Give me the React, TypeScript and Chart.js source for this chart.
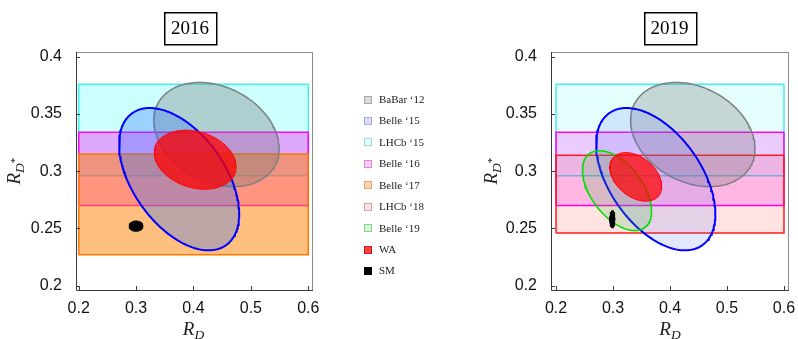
import React, { useEffect, useRef } from "react";
import { Chart, registerables } from "chart.js";

Chart.register(...registerables);

// ---------------------------------------------------------------------------
// Measurements
// ---------------------------------------------------------------------------

// R(D*)-only results, shown as horizontal bands over the R(D) span
const BAND_RD_SPAN = [0.2, 0.6];
const LHCB_15 = { label: "LHCb ‘15", rds: 0.336, down: 0.04, up: 0.04 };
const BELLE_16 = { label: "Belle ‘16", rds: 0.302, down: 0.032, up: 0.032 };
const BELLE_17 = { label: "Belle ‘17", rds: 0.27, down: 0.043, up: 0.045 };
const LHCB_18 = { label: "LHCb ‘18", rds: 0.28, down: 0.034, up: 0.034 };

// Joint R(D)–R(D*) results: central values, total errors and correlation
const BABAR_12 = { label: "BaBar ‘12", rd: 0.44, rdErr: 0.072, rds: 0.332, rdsErr: 0.03, rho: -0.27 };
const BELLE_15 = { label: "Belle ‘15", rd: 0.375, rdErr: 0.069, rds: 0.293, rdsErr: 0.041, rho: -0.49 };
const BELLE_19 = { label: "Belle ‘19", rd: 0.307, rdErr: 0.04, rds: 0.283, rdsErr: 0.023, rho: -0.51 };
const WA_2016 = { label: "WA", rd: 0.403, rdErr: 0.047, rds: 0.31, rdsErr: 0.017, rho: -0.23 };
const WA_2019 = { label: "WA", rd: 0.34, rdErr: 0.03, rds: 0.295, rdsErr: 0.014, rho: -0.38 };
const SM_2016 = { label: "SM", rd: 0.3, rdErr: 0.008, rds: 0.252, rdsErr: 0.003, rho: 0 };
const SM_2019 = { label: "SM", rd: 0.299, rdErr: 0.003, rds: 0.258, rdsErr: 0.005, rho: 0 };

// 68% CL contour for two parameters
const DELTA_CHI2 = 2.3;

const BANDS_2016 = [LHCB_15, BELLE_16, BELLE_17];
const ELLIPSES_2016 = [BABAR_12, BELLE_15, WA_2016, SM_2016];
const BANDS_2019 = [LHCB_15, BELLE_16, LHCB_18];
const ELLIPSES_2019 = [BABAR_12, BELLE_15, BELLE_19, WA_2019, SM_2019];

const X_TICKS = [0.2, 0.3, 0.4, 0.5, 0.6];
const X_TICK_LABELS = ["0.2", "0.3", "0.4", "0.5", "0.6"];
const Y_TICKS = [0.2, 0.25, 0.3, 0.35, 0.4];
const Y_TICK_LABELS = ["0.2", "0.25", "0.3", "0.35", "0.4"];

const LEGEND_LABELS = ["BaBar ‘12", "Belle ‘15", "LHCb ‘15", "Belle ‘16", "Belle ‘17", "LHCb ‘18", "Belle ‘19", "WA", "SM"];
const LEGEND_FILLS = ["#dcdcdc", "#dedeff", "#dcffff", "#ffc8ff", "#ffd4a8", "#ffe0e0", "#ccffcc", "#ff4040", "#000000"];
const LEGEND_LINES = ["#a8a8a8", "#a8a8d8", "#a8d8d8", "#d090d0", "#d8a878", "#d0a8a8", "#90d090", "#c02020", "#000000"];

// ---------------------------------------------------------------------------
// Styles
// ---------------------------------------------------------------------------

type Style = { fill: string; line: string; width: number };

const STYLE_2016: Record<string, Style> = {
  "LHCb ‘15": { fill: "rgba(0,255,255,0.2)", line: "#40f0f0", width: 1.5 },
  "Belle ‘16": { fill: "rgba(255,0,255,0.34)", line: "#ff00ff", width: 1.5 },
  "Belle ‘17": { fill: "rgba(255,128,0,0.5)", line: "#ff7800", width: 1.5 },
  "BaBar ‘12": { fill: "rgba(120,120,120,0.35)", line: "#7f7f7f", width: 1.5 },
  "Belle ‘15": { fill: "rgba(40,110,255,0.3)", line: "#0000ff", width: 2 },
  WA: { fill: "rgba(255,0,0,0.75)", line: "#ff0000", width: 1 },
  SM: { fill: "#000000", line: "#000000", width: 1 },
};

const STYLE_2019: Record<string, Style> = {
  "LHCb ‘15": { fill: "rgba(0,255,255,0.1)", line: "#40f0f0", width: 1.5 },
  "Belle ‘16": { fill: "rgba(255,0,255,0.2)", line: "#ff00ff", width: 1.5 },
  "LHCb ‘18": { fill: "rgba(255,0,0,0.11)", line: "#ff1a1a", width: 1.5 },
  "BaBar ‘12": { fill: "rgba(120,120,120,0.3)", line: "#7f7f7f", width: 1.5 },
  "Belle ‘15": { fill: "rgba(90,110,255,0.16)", line: "#0000ff", width: 2 },
  "Belle ‘19": { fill: "rgba(60,190,60,0.2)", line: "#00dd00", width: 1.5 },
  WA: { fill: "rgba(255,0,0,0.72)", line: "#ff0000", width: 1 },
  SM: { fill: "#000000", line: "#000000", width: 1 },
};

const SERIF = '"Liberation Serif", "Times New Roman", serif';
const SANS = '"Liberation Sans", Arial, sans-serif';

// ---------------------------------------------------------------------------
// Geometry helpers
// ---------------------------------------------------------------------------

function bandPoints(b: { rds: number; down: number; up: number }) {
  const lo = b.rds - b.down;
  const hi = b.rds + b.up;
  const [x0, x1] = BAND_RD_SPAN;
  return [
    { x: x0, y: lo },
    { x: x1, y: lo },
    { x: x1, y: hi },
    { x: x0, y: hi },
    { x: x0, y: lo },
  ];
}

// Covariance ellipse traced parametrically
function ellipsePoints(m: { rd: number; rdErr: number; rds: number; rdsErr: number; rho: number }) {
  const k = Math.sqrt(DELTA_CHI2);
  const s = Math.sqrt(1 - m.rho * m.rho);
  const pts: { x: number; y: number }[] = [];
  const n = 200;
  for (let i = 0; i <= n; i++) {
    const t = (2 * Math.PI * i) / n;
    pts.push({
      x: m.rd + k * m.rdErr * Math.cos(t),
      y: m.rds + k * m.rdsErr * (m.rho * Math.cos(t) + s * Math.sin(t)),
    });
  }
  return pts;
}

type Seg = { text: string; size: number; dy: number; italic: boolean };

function segWidth(ctx: CanvasRenderingContext2D, segs: Seg[]) {
  let w = 0;
  for (const s of segs) {
    ctx.font = `${s.italic ? "italic " : ""}${s.size}px ${SERIF}`;
    w += ctx.measureText(s.text).width;
  }
  return w;
}

function drawSegs(ctx: CanvasRenderingContext2D, segs: Seg[], x0: number, baseline: number) {
  let x = x0;
  ctx.textAlign = "left";
  ctx.textBaseline = "alphabetic";
  for (const s of segs) {
    ctx.font = `${s.italic ? "italic " : ""}${s.size}px ${SERIF}`;
    ctx.fillText(s.text, x, baseline + s.dy);
    x += ctx.measureText(s.text).width;
  }
}

const R_D: Seg[] = [
  { text: "R", size: 19, dy: 0, italic: true },
  { text: "D", size: 13.5, dy: 3.5, italic: true },
];
const R_DSTAR: Seg[] = [
  { text: "R", size: 19, dy: 0, italic: true },
  { text: "D", size: 13.5, dy: 3.5, italic: true },
  { text: "*", size: 11, dy: -2, italic: false },
];

// ---------------------------------------------------------------------------
// Panel decorations: frame, inward ticks, boxed title, axis titles, legend
// ---------------------------------------------------------------------------

type PanelOpts = {
  title: string;
  titleX: number;
  yTitleX: number;
  legend: boolean;
};

function makeDecor(o: PanelOpts) {
  return {
    id: "panelDecor",
    afterDraw(chart: any) {
      const ctx: CanvasRenderingContext2D = chart.ctx;
      const a = chart.chartArea;
      const xs = chart.scales.x;
      const ys = chart.scales.y;
      ctx.save();

      // frame
      ctx.lineWidth = 1;
      ctx.strokeStyle = "#8c8c8c";
      ctx.beginPath();
      ctx.moveTo(a.left, a.top + 0.5);
      ctx.lineTo(a.right - 0.5, a.top + 0.5);
      ctx.lineTo(a.right - 0.5, a.bottom);
      ctx.stroke();
      ctx.strokeStyle = "#3a3a3a";
      ctx.beginPath();
      ctx.moveTo(a.left + 0.5, a.top);
      ctx.lineTo(a.left + 0.5, a.bottom + 0.5);
      ctx.lineTo(a.right, a.bottom + 0.5);
      ctx.stroke();

      // inward ticks
      ctx.strokeStyle = "#3a3a3a";
      ctx.beginPath();
      for (const v of X_TICKS) {
        const px = Math.round(xs.getPixelForValue(v)) + 0.5;
        ctx.moveTo(px, a.bottom);
        ctx.lineTo(px, a.bottom - 4);
      }
      for (const v of Y_TICKS) {
        const py = Math.round(ys.getPixelForValue(v)) + 0.5;
        ctx.moveTo(a.left, py);
        ctx.lineTo(a.left + 4, py);
      }
      ctx.stroke();

      // boxed title
      ctx.font = `19px ${SERIF}`;
      const tw = ctx.measureText(o.title).width;
      const bw = tw + 14;
      ctx.lineWidth = 1.5;
      ctx.strokeStyle = "#000";
      ctx.strokeRect(Math.round(o.titleX - bw / 2) + 0.75, 12.75, Math.round(bw), 32);
      ctx.fillStyle = "#000";
      ctx.textAlign = "center";
      ctx.textBaseline = "alphabetic";
      ctx.fillText(o.title, o.titleX, 34);

      // x axis title R_D
      ctx.fillStyle = "#222";
      const cx = (xs.getPixelForValue(0.4));
      const wx = segWidth(ctx, R_D);
      drawSegs(ctx, R_D, cx - wx / 2, 335);

      // y axis title R_{D*}
      const cy = ys.getPixelForValue(0.3);
      const wy = segWidth(ctx, R_DSTAR);
      ctx.save();
      ctx.translate(o.yTitleX, cy);
      ctx.rotate(-Math.PI / 2);
      drawSegs(ctx, R_DSTAR, -wy / 2, 0);
      ctx.restore();

      // legend
      if (o.legend) {
        LEGEND_LABELS.forEach((lab, i) => {
          const y = 99.5 + i * 21.45;
          ctx.fillStyle = LEGEND_FILLS[i];
          ctx.fillRect(364, Math.round(y - 4), 8, 8);
          ctx.lineWidth = 1;
          ctx.strokeStyle = LEGEND_LINES[i];
          ctx.strokeRect(364.5, Math.round(y - 4) + 0.5, 7, 7);
          ctx.fillStyle = "#222";
          ctx.font = `11px ${SERIF}`;
          ctx.textAlign = "left";
          ctx.textBaseline = "middle";
          ctx.fillText(lab, 379, y + 0.5);
        });
      }
      ctx.restore();
    },
  };
}

// ---------------------------------------------------------------------------
// Chart configuration
// ---------------------------------------------------------------------------

type Frame = { xMin: number; xMax: number; yMin: number; yMax: number; yAxisWidth: number; padRight: number };

function buildConfig(bands: any[], ellipses: any[], style: Record<string, Style>, frame: Frame, deco: PanelOpts) {
  const layers = [
    ...bands.map((b) => ({ label: b.label, data: bandPoints(b) })),
    ...ellipses.map((e) => ({ label: e.label, data: ellipsePoints(e) })),
  ];
  const datasets = layers.map((l, i) => {
    const s = style[l.label];
    return {
      label: l.label,
      data: l.data,
      order: layers.length - i,
      fill: "shape",
      backgroundColor: s.fill,
      borderColor: s.line,
      borderWidth: s.width,
      pointRadius: 0,
      pointHoverRadius: 0,
      tension: 0,
      borderJoinStyle: "miter",
    };
  });

  const tickFont = { family: SANS, size: 16 };

  return {
    type: "line",
    data: { datasets },
    options: {
      responsive: false,
      animation: false,
      devicePixelRatio: 1,
      events: [],
      layout: { padding: { top: 52, right: frame.padRight, left: 0, bottom: 0 } },
      plugins: { legend: { display: false }, tooltip: { enabled: false } },
      scales: {
        x: {
          type: "linear",
          min: frame.xMin,
          max: frame.xMax,
          grid: { display: false },
          border: { display: false },
          afterFit: (s: any) => {
            s.height = 49;
          },
          afterBuildTicks: (s: any) => {
            s.ticks = X_TICKS.map((v) => ({ value: v }));
          },
          ticks: {
            autoSkip: false,
            maxRotation: 0,
            padding: 1,
            color: "#111",
            font: tickFont,
            callback: (_v: any, i: number) => X_TICK_LABELS[i],
          },
        },
        y: {
          type: "linear",
          min: frame.yMin,
          max: frame.yMax,
          grid: { display: false },
          border: { display: false },
          afterFit: (s: any) => {
            s.width = frame.yAxisWidth;
          },
          afterBuildTicks: (s: any) => {
            s.ticks = Y_TICKS.map((v) => ({ value: v }));
          },
          ticks: {
            autoSkip: false,
            padding: 6,
            color: "#111",
            font: tickFont,
            callback: (_v: any, i: number) => Y_TICK_LABELS[i],
          },
        },
      },
    },
    plugins: [makeDecor(deco)],
  };
}

function Panel(props: {
  left: number;
  width: number;
  bands: any[];
  ellipses: any[];
  style: Record<string, Style>;
  frame: Frame;
  deco: PanelOpts;
}) {
  const ref = useRef<HTMLCanvasElement>(null);
  useEffect(() => {
    const cfg: any = buildConfig(props.bands, props.ellipses, props.style, props.frame, props.deco);
    const chart = new Chart(ref.current as HTMLCanvasElement, cfg);
    return () => chart.destroy();
  }, []);
  return (
    <canvas
      ref={ref}
      width={props.width}
      height={339}
      style={{ position: "absolute", left: props.left, top: 0, width: props.width, height: 339 }}
    />
  );
}

export default function App() {
  return (
    <div style={{ position: "absolute", left: 0, top: 0, width: 798, height: 339, background: "#fff", overflow: "hidden" }}>
      <Panel
        left={0}
        width={460}
        bands={BANDS_2016}
        ellipses={ELLIPSES_2016}
        style={STYLE_2016}
        frame={{ xMin: 0.1953, xMax: 0.6082, yMin: 0.1962, yMax: 0.4041, yAxisWidth: 76, padRight: 147 }}
        deco={{ title: "2016", titleX: 190, yTitleX: 20, legend: true }}
      />
      <Panel
        left={460}
        width={338}
        bands={BANDS_2019}
        ellipses={ELLIPSES_2019}
        style={STYLE_2019}
        frame={{ xMin: 0.1912, xMax: 0.6088, yMin: 0.1962, yMax: 0.4041, yAxisWidth: 91, padRight: 9 }}
        deco={{ title: "2019", titleX: 209.5, yTitleX: 37, legend: false }}
      />
    </div>
  );
}
